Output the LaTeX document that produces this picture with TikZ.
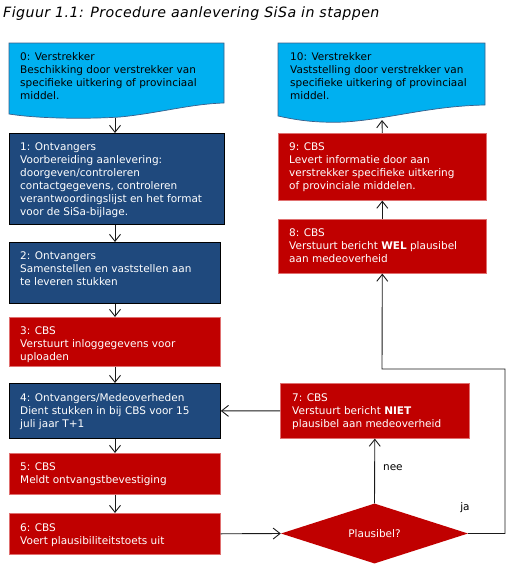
\documentclass[tikz,border=0pt]{standalone}
\usepackage{fontspec}
\setmainfont{DejaVu Sans}
\newfontfamily\titlefont[LetterSpace=3]{DejaVu Sans}
\usetikzlibrary{arrows.meta,shapes.geometric}
\definecolor{cyanfill}{HTML}{00B0F0}
\definecolor{cyanline}{HTML}{3A5F8A}
\definecolor{bluefill}{HTML}{1F497D}
\definecolor{redfill}{HTML}{C00000}
\definecolor{redline}{HTML}{E07070}
\definecolor{linecol}{HTML}{1A1A1A}
\newcommand{\fl}{\rule{0pt}{9pt}}
\begin{document}
\begin{tikzpicture}[x=1pt,y=-1pt,
  boxbase/.style={rectangle, anchor=north west, inner sep=0pt, line width=0.8pt},
  bluebox/.style={boxbase, fill=bluefill, draw=black},
  redbox/.style={boxbase, fill=redfill, draw=redline, line width=0.6pt},
  txt/.style={anchor=north west, inner sep=0pt, align=left, font=\fontsize{10.5}{13}\selectfont},
  wtxt/.style={txt, text=white},
  conn/.style={draw=linecol, line width=0.9pt, -{Straight Barb[length=7pt,width=11pt,line width=0.9pt]}},
  plain/.style={draw=linecol, line width=0.9pt},
  lbl/.style={font=\fontsize{10.5}{13}\selectfont, inner sep=0pt, text=black}
]
\useasboundingbox (0,0) rectangle (513,570);

% title
\node[anchor=base west, inner sep=0pt, font=\titlefont\fontsize{14.2}{16}\selectfont\itshape] (title) at (3,17) {Figuur 1.1: Procedure aanlevering SiSa in stappen};

% box 0 (document shape)
\filldraw[fill=cyanfill, draw=cyanline, line width=0.7pt]
  (9,43) -- (224,43) -- (224,103) .. controls (190,104) and (160,113) .. (120,117)
  .. controls (90,119) and (40,119) .. (9,114) -- cycle;
\node[boxbase, minimum width=215pt, minimum height=60pt] (b0) at (9,43) {};
\coordinate (b0s) at (115,117.5);
\node[txt] (t0) at (20,51) {\fl 0: Verstrekker\\Beschikking door verstrekker van\\specifieke uitkering of provinciaal\\middel.};

% box 10 (document shape)
\filldraw[fill=cyanfill, draw=cyanline, line width=0.7pt]
  (278,43) -- (485,43) -- (485,105) .. controls (430,106) and (390,119) .. (345,122)
  .. controls (320,123) and (300,121) .. (278,116) -- cycle;
\node[boxbase, minimum width=207pt, minimum height=62pt] (b10) at (278,43) {};
\coordinate (b10s) at (382,120);
\node[txt] (t10) at (290,51) {\fl 10: Verstrekker\\Vaststelling door verstrekker van\\specifieke uitkering of provinciaal\\middel.};

% left column
\node[bluebox, minimum width=215pt, minimum height=91pt] (b1) at (9,133) {};
\node[wtxt] (t1) at (20,141) {\fl 1: Ontvangers\\Voorbereiding aanlevering:\\doorgeven/controleren\\contactgegevens, controleren\\verantwoordingslijst en het format\\voor de SiSa-bijlage.};

\node[bluebox, minimum width=211pt, minimum height=61pt] (b2) at (9,242) {};
\node[wtxt] (t2) at (20,250) {\fl 2: Ontvangers\\Samenstellen en vaststellen aan\\te leveren stukken};

\node[redbox, minimum width=211pt, minimum height=49pt] (b3) at (9,317) {};
\node[wtxt] (t3) at (20,325) {\fl 3: CBS\\Verstuurt inloggegevens voor\\uploaden};

\node[bluebox, minimum width=211pt, minimum height=55pt] (b4) at (9,383) {};
\node[wtxt] (t4) at (20,392) {\fl 4: Ontvangers/Medeoverheden\\Dient stukken in bij CBS voor 15\\juli jaar T+1};

\node[redbox, minimum width=211pt, minimum height=41pt] (b5) at (9,453) {};
\node[wtxt] (t5) at (20,461) {\fl 5: CBS\\Meldt ontvangstbevestiging};

\node[redbox, minimum width=211pt, minimum height=41pt] (b6) at (9,513) {};
\node[wtxt] (t6) at (20,522) {\fl 6: CBS\\Voert plausibiliteitstoets uit};

% right column
\node[redbox, minimum width=208pt, minimum height=67pt] (b9) at (278,133) {};
\node[wtxt] (t9) at (289,141) {\fl 9: CBS\\Levert informatie door aan\\verstrekker specifieke uitkering\\of provinciale middelen.};

\node[redbox, minimum width=208pt, minimum height=54pt] (b8) at (278,219) {};
\node[wtxt] (t8) at (289,227) {\fl 8: CBS\\Verstuurt bericht \textbf{WEL} plausibel\\aan medeoverheid};

\node[redbox, minimum width=189pt, minimum height=55pt] (b7) at (280,383) {};
\node[wtxt] (t7) at (292,392) {\fl 7: CBS\\Verstuurt bericht \textbf{NIET}\\plausibel aan medeoverheid};

\node[diamond, aspect=3.1167, minimum width=187pt, minimum height=60pt, inner sep=0pt,
      fill=redfill, text=white, font=\fontsize{10.5}{13}\selectfont] (dia) at (374.5,533.5) {Plausibel?};

% connectors left column
\coordinate (col) at (115,0);
\draw[conn] (b0s) -- (b1.north -| col);
\draw[conn] (b1.south -| col) -- (b2.north -| col);
\draw[conn] (b2.south -| col) -- (b3.north -| col);
\draw[conn] (b3.south -| col) -- (b4.north -| col);
\draw[conn] (b4.south -| col) -- (b5.north -| col);
\draw[conn] (b5.south -| col) -- (b6.north -| col);

% flow to decision
\draw[conn] (b6.east) -- (dia.west);
\draw[conn] (dia.north) -- node[lbl, anchor=west, xshift=8pt, yshift=3pt] (nee) {nee} (b7.south);
\draw[conn] (b7.west) -- (b4.east);
\coordinate (c1) at (505,533.5);
\coordinate (c2) at (505,369);
\coordinate (c3) at (382,369);
\draw[conn] (dia.east) -- (c1) -- (c2) -- (c3) -- (b8.south);
\node[lbl] (ja) at (465,508) {ja};
\draw[conn] (b8.north) -- (b9.south);
\draw[conn] (b9.north) -- (b10s);
\end{tikzpicture}
\end{document}
